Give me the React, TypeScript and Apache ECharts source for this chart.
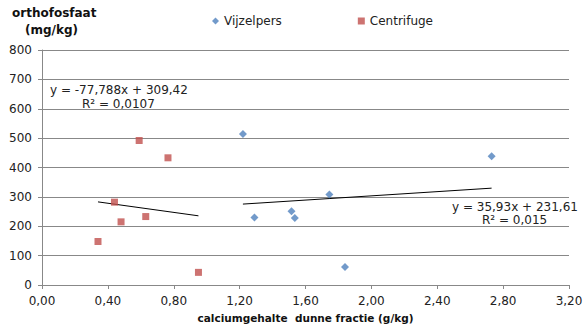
import React, { useEffect, useRef } from "react";
import * as echarts from "echarts";

const vijzelX = [1.22, 1.29, 1.515, 1.535, 1.745, 1.84, 2.73];
const vijzelY = [514, 230, 251, 228, 308, 61, 438];
const centriX = [0.34, 0.44, 0.48, 0.59, 0.63, 0.765, 0.95];
const centriY = [148, 282, 215, 492, 233, 433, 43];
const vijzelTrend = { slope: 35.93, intercept: 231.61, eq: "y = 35,93x + 231,61", r2: "R² = 0,015" };
const centriTrend = { slope: -77.788, intercept: 309.42, eq: "y = -77,788x + 309,42", r2: "R² = 0,0107" };

const FONT = "'DejaVu Sans', Verdana, sans-serif";

function trend(xs: number[], t: { slope: number; intercept: number }) {
  const lo = Math.min(...xs);
  const hi = Math.max(...xs);
  return [
    [lo, t.slope * lo + t.intercept],
    [hi, t.slope * hi + t.intercept],
  ];
}

export default function App() {
  const ref = useRef<HTMLDivElement>(null);
  useEffect(() => {
    if (!ref.current) return;
    const chart = echarts.init(ref.current, undefined, { renderer: "svg" });
    chart.setOption({
      animation: false,
      backgroundColor: "#fff",
      textStyle: { fontFamily: FONT },
      grid: { left: 42, right: 14, top: 50, bottom: 40, containLabel: false, outerBoundsMode: "none" },
      legend: {
        data: [
          { name: "Vijzelpers", icon: "diamond" },
          { name: "Centrifuge", icon: "rect" },
        ],
        left: 207,
        top: 10,
        itemWidth: 7,
        itemHeight: 7,
        itemGap: 76,
        textStyle: { fontFamily: FONT, fontSize: 12, color: "#222" },
      },
      xAxis: {
        type: "value",
        min: 0,
        max: 3.2,
        interval: 0.4,
        splitLine: { show: false },
        axisLine: { lineStyle: { color: "#888" } },
        axisTick: { show: true, length: 4, lineStyle: { color: "#888" } },
        axisLabel: {
          color: "#222",
          fontSize: 12,
          fontFamily: FONT,
          margin: 10,
          formatter: (v: number) => v.toFixed(2).replace(".", ","),
        },
        name: "calciumgehalte  dunne fractie (g/kg)",
        nameLocation: "middle",
        nameGap: 27,
        nameTextStyle: { fontWeight: "bold", fontSize: 10.5, color: "#111", fontFamily: FONT },
      },
      yAxis: {
        type: "value",
        min: 0,
        max: 800,
        interval: 100,
        splitLine: { show: true, lineStyle: { color: "#888", width: 1 } },
        axisLine: { show: true, lineStyle: { color: "#888" } },
        axisTick: { show: true, length: 4, lineStyle: { color: "#888" } },
        axisLabel: { color: "#222", fontSize: 12, fontFamily: FONT, margin: 10 },
      },
      graphic: [
        { type: "text", left: 12, top: 7, style: { text: "orthofosfaat", font: `bold 12px ${FONT}`, fill: "#111" } },
        { type: "text", left: 25, top: 24, style: { text: "(mg/kg)", font: `bold 12px ${FONT}`, fill: "#111" } },
        { type: "text", left: 50, top: 84, style: { text: centriTrend.eq, font: `12px ${FONT}`, fill: "#222" } },
        { type: "text", left: 82, top: 98, style: { text: centriTrend.r2, font: `12px ${FONT}`, fill: "#222" } },
        { type: "text", left: 452, top: 201, style: { text: vijzelTrend.eq, font: `12px ${FONT}`, fill: "#222" } },
        { type: "text", left: 482, top: 214, style: { text: vijzelTrend.r2, font: `12px ${FONT}`, fill: "#222" } },
      ],
      series: [
        {
          name: "Vijzelpers",
          type: "scatter",
          symbol: "diamond",
          symbolSize: 8,
          itemStyle: { color: "#4F81BD" },
          data: vijzelX.map((x, i) => [x, vijzelY[i]]),
          z: 3,
        },
        {
          name: "Centrifuge",
          type: "scatter",
          symbol: "rect",
          symbolSize: 7,
          itemStyle: { color: "#C0504D" },
          data: centriX.map((x, i) => [x, centriY[i]]),
          z: 3,
        },
        {
          name: "trendV",
          type: "line",
          symbol: "none",
          lineStyle: { color: "#000", width: 1 },
          data: trend(vijzelX, vijzelTrend),
          z: 2,
        },
        {
          name: "trendC",
          type: "line",
          symbol: "none",
          lineStyle: { color: "#000", width: 1 },
          data: trend(centriX, centriTrend),
          z: 2,
        },
      ],
    });
    return () => chart.dispose();
  }, []);
  return <div ref={ref} style={{ width: 583, height: 325, position: "absolute", left: 0, top: 0 }} />;
}
